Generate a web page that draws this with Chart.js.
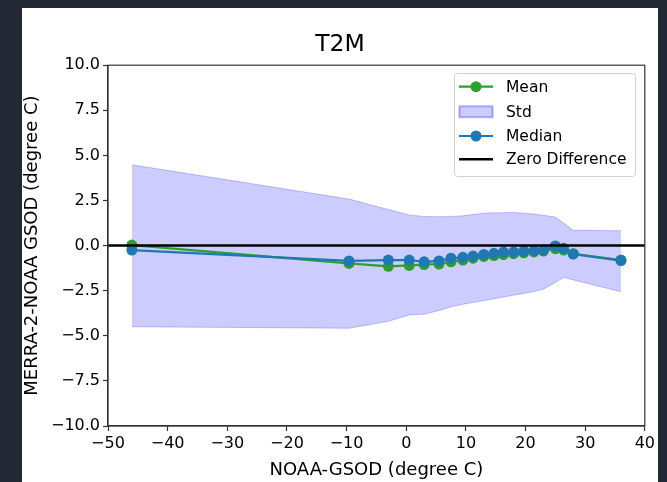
<!DOCTYPE html>
<html>
<head>
<meta charset="utf-8">
<title>T2M</title>
<script src="https://cdn.jsdelivr.net/npm/chart.js@4.4.1/dist/chart.umd.min.js"></script>
<style>
  html, body { margin: 0; padding: 0; background: #222834; }
  #frame {
    position: absolute; left: 22px; top: 8px;
    width: 636px; height: 474px; background: #ffffff;
  }
  canvas { display: block; }
</style>
</head>
<body>
<div id="frame"><canvas id="t2mChart" width="636" height="474"></canvas></div>
<script>
// ---- data ----
const noaaTemps = [-46, -9.6, -3, 0.5, 3, 5.5, 7.5, 9.5, 11.2, 13, 14.7, 16.3, 18, 19.7, 21.4, 23, 25, 26.4, 28, 36];
const meanDiff   = [0.03, -0.99, -1.15, -1.1, -1.05, -1.02, -0.9, -0.8, -0.7, -0.6, -0.55, -0.5, -0.45, -0.4, -0.35, -0.3, -0.17, -0.25, -0.45, -0.8];
const medianDiff = [-0.25, -0.85, -0.8, -0.8, -0.9, -0.85, -0.7, -0.65, -0.58, -0.49, -0.43, -0.36, -0.35, -0.3, -0.28, -0.25, -0.02, -0.15, -0.47, -0.83];
const stdUpper   = [4.48, 2.58, 2.0, 1.7, 1.62, 1.6, 1.62, 1.65, 1.72, 1.8, 1.82, 1.82, 1.84, 1.8, 1.75, 1.68, 1.58, 1.25, 0.85, 0.82];
const stdLower   = [-4.5, -4.58, -4.2, -3.85, -3.8, -3.6, -3.4, -3.25, -3.15, -3.05, -2.95, -2.85, -2.75, -2.65, -2.55, -2.42, -2.05, -1.76, -1.9, -2.56];
const zeroLineX  = [-50, 40];

const xTicks = [-50, -40, -30, -20, -10, 0, 10, 20, 30, 40];
const yTicks = [-10, -7.5, -5, -2.5, 0, 2.5, 5, 7.5, 10];

const GREEN = "#2ca02c";
const BLUE  = "#1f77b4";
const FONT  = "'DejaVu Sans', sans-serif";

Chart.defaults.font.family = FONT;
Chart.defaults.color = "#000";

function pts(xs, ys) {
  return xs.map((x, i) => ({ x, y: ys[i] }));
}
function mplMinus(s) {
  return String(s).replace("-", "\u2212");
}

// spines on all four sides
const frameBox = {
  id: "frameBox",
  afterDraw(chart) {
    const { ctx, chartArea: a } = chart;
    ctx.save();
    ctx.strokeStyle = "#333";
    ctx.lineWidth = 1.2;
    ctx.strokeRect(a.left, a.top, a.right - a.left, a.bottom - a.top);
    ctx.restore();
  }
};

// matplotlib-style legend in upper right of plot
const boxLegend = {
  id: "boxLegend",
  afterDraw(chart) {
    const { ctx } = chart;
    const ds = chart.data.datasets;
    const entries = [
      { label: ds[1].label, kind: "marker", color: GREEN },
      { label: "Std", kind: "patch" },
      { label: ds[2].label, kind: "marker", color: BLUE },
      { label: ds[0].label, kind: "line", color: "#000" }
    ];
    const bx = 432, by = 65, bw = 181, bh = 103;
    ctx.save();
    ctx.fillStyle = "rgba(255,255,255,0.8)";
    ctx.strokeStyle = "#d0d0d0";
    ctx.lineWidth = 1;
    ctx.beginPath();
    ctx.roundRect(bx + 0.5, by + 0.5, bw, bh, 3);
    ctx.fill();
    ctx.stroke();
    ctx.font = "15.5px " + FONT;
    ctx.textBaseline = "middle";
    const rows = [78.7, 103.7, 128, 151.3];
    entries.forEach((e, i) => {
      const y = rows[i];
      if (e.kind === "patch") {
        ctx.fillStyle = "rgba(0,0,255,0.2)";
        ctx.strokeStyle = "rgba(0,0,255,0.25)";
        ctx.fillRect(437, y - 5.5, 34, 11);
        ctx.strokeRect(437.5, y - 5.5, 33, 11);
      } else {
        ctx.strokeStyle = e.color;
        ctx.lineWidth = e.kind === "line" ? 2.5 : 2.2;
        ctx.beginPath();
        ctx.moveTo(437, y);
        ctx.lineTo(471, y);
        ctx.stroke();
        if (e.kind === "marker") {
          ctx.fillStyle = e.color;
          ctx.beginPath();
          ctx.arc(454, y, 5.5, 0, Math.PI * 2);
          ctx.fill();
        }
      }
      ctx.fillStyle = "#000";
      ctx.fillText(e.label, 484, y + 1);
    });
    ctx.restore();
  }
};

new Chart(document.getElementById("t2mChart").getContext("2d"), {
  type: "line",
  data: {
    datasets: [
      {
        label: "Zero Difference",
        data: pts(zeroLineX, [0, 0]),
        borderColor: "#000",
        borderWidth: 2.5,
        pointRadius: 0,
        order: 0
      },
      {
        label: "Mean",
        data: pts(noaaTemps, meanDiff),
        borderColor: GREEN,
        backgroundColor: GREEN,
        borderWidth: 2.2,
        pointRadius: 5.5,
        pointBorderWidth: 0,
        order: 2
      },
      {
        label: "Median",
        data: pts(noaaTemps, medianDiff),
        borderColor: BLUE,
        backgroundColor: BLUE,
        borderWidth: 2.2,
        pointRadius: 5.5,
        pointBorderWidth: 0,
        order: 1
      },
      {
        label: "Std upper",
        data: pts(noaaTemps, stdUpper),
        borderColor: "rgba(0,0,255,0.22)",
        borderWidth: 1,
        backgroundColor: "rgba(0,0,255,0.2)",
        pointRadius: 0,
        fill: "+1",
        order: 4
      },
      {
        label: "Std lower",
        data: pts(noaaTemps, stdLower),
        borderColor: "rgba(0,0,255,0.22)",
        borderWidth: 1,
        pointRadius: 0,
        fill: false,
        order: 5
      }
    ]
  },
  options: {
    responsive: false,
    animation: false,
    layout: { padding: 0 },
    plugins: {
      legend: { display: false },
      tooltip: { enabled: false },
      title: {
        display: true,
        text: "T2M",
        color: "#000",
        font: { size: 23.5, weight: "normal", family: FONT },
        padding: { top: 23, bottom: 6 }
      }
    },
    scales: {
      x: {
        type: "linear",
        min: -50,
        max: 40,
        afterFit: s => { s.height = 56; },
        afterBuildTicks: s => { s.ticks = xTicks.map(v => ({ value: v })); },
        ticks: {
          font: { size: 16 },
          color: "#000",
          padding: 3,
          maxRotation: 0,
          callback: v => mplMinus(v)
        },
        grid: { drawOnChartArea: false, drawTicks: true, tickLength: 5, tickColor: "#333", tickWidth: 1.2 },
        border: { display: true, color: "#333", width: 1.2 },
        title: {
          display: true,
          text: "NOAA-GSOD (degree C)",
          color: "#000",
          font: { size: 18 },
          padding: { top: 0, bottom: 1 }
        }
      },
      y: {
        type: "linear",
        min: -10,
        max: 10,
        afterFit: s => { s.width = 86; },
        afterBuildTicks: s => { s.ticks = yTicks.map(v => ({ value: v })); },
        ticks: {
          font: { size: 16 },
          color: "#000",
          padding: 3,
          callback: v => mplMinus(Number(v).toFixed(1))
        },
        grid: { drawOnChartArea: false, drawTicks: true, tickLength: 5, tickColor: "#333", tickWidth: 1.2 },
        border: { display: true, color: "#333", width: 1.2 },
        title: {
          display: true,
          text: "MERRA-2-NOAA GSOD (degree C)",
          color: "#000",
          font: { size: 18 },
          padding: { top: 0, bottom: 0 }
        }
      }
    }
  },
  plugins: [frameBox, boxLegend]
});
</script>
</body>
</html>
